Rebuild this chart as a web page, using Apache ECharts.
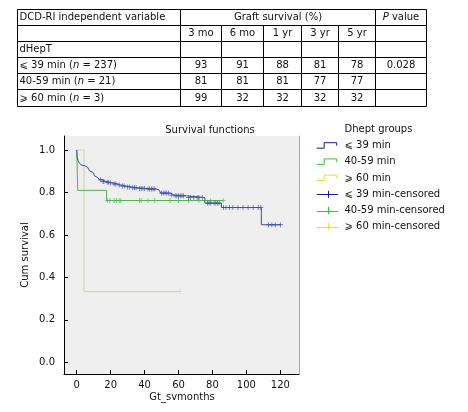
<!DOCTYPE html>
<html><head><meta charset="utf-8">
<script src="https://cdn.jsdelivr.net/npm/echarts@6/dist/echarts.min.js"></script>
<style>html,body{margin:0;padding:0;background:#fff}#c{width:468px;height:412px}</style>
</head><body><div id="c"></div>
<script>
const FONT = "'DejaVu Sans', sans-serif";
const FS = 10;

// ---- Table data ----
const tableHeader = 'DCD-RI independent variable';
const tableSpanHeader = 'Graft survival (%)';
const tablePHeader = 'P';
const timepoints = ['3 mo', '6 mo', '1 yr', '3 yr', '5 yr'];
const groupHeader = 'dHepT';
const groupLabels = ['⩽ 39 min', '40-59 min', '⩾ 60 min'];
const groupN = [237, 21, 3];
const survLe39 = [93, 91, 88, 81, 78];
const surv40to59 = [81, 81, 81, 77, 77];
const survGe60 = [99, 32, 32, 32, 32];
const pValues = ['0.028', '', ''];

// ---- Kaplan-Meier curves (months, cumulative survival) ----
const curveLe39 = [[0,1.0],[0.3,0.965],[0.8,0.95],[1.5,0.94],[2.5,0.93],[3.5,0.925],[5,0.918],[6.5,0.91],[7.5,0.902],[8.5,0.895],[9.5,0.887],[10.5,0.878],[11.5,0.87],[12.5,0.865],[13.5,0.86],[15,0.852],[17,0.848],[19.5,0.845],[21.5,0.84],[24,0.835],[26,0.83],[29,0.826],[32,0.822],[36,0.819],[41,0.816],[47,0.812],[48.5,0.805],[49.5,0.797],[55.5,0.788],[57,0.784],[64.5,0.776],[75.5,0.75],[85.3,0.729],[108.8,0.648],[120.5,0.648]];
const censorLe39 = [[14,0.86],[15.5,0.852],[16,0.852],[18,0.848],[18.8,0.848],[20,0.845],[22,0.84],[23,0.84],[25,0.835],[27,0.83],[28,0.83],[30,0.826],[31,0.826],[33,0.822],[34,0.822],[35,0.822],[37,0.819],[38,0.819],[39,0.819],[40,0.819],[42,0.816],[43,0.816],[44,0.816],[45,0.816],[46,0.816],[50,0.797],[51,0.797],[52,0.797],[53,0.797],[54,0.797],[56,0.788],[58,0.784],[59,0.784],[60,0.784],[61,0.784],[62,0.784],[63,0.784],[66,0.776],[67,0.776],[69,0.776],[71,0.776],[72,0.776],[74,0.776],[77,0.75],[78,0.75],[79,0.75],[81,0.75],[82,0.75],[83,0.75],[84,0.75],[86.5,0.729],[88,0.729],[90,0.729],[92,0.729],[95,0.729],[98,0.729],[101,0.729],[104,0.729],[107,0.729],[108.5,0.729],[113,0.648],[115,0.648],[117,0.648],[120,0.648]];
const curve40to59 = [[0,1.0],[0.6,0.81],[17.6,0.762],[86.3,0.762]];
const censor40to59 = [[18,0.762],[19.5,0.762],[22,0.762],[23.5,0.762],[25,0.762],[26,0.762],[37,0.762],[38,0.762],[42,0.762],[46,0.762],[55,0.762],[60,0.762],[66,0.762],[72,0.762],[79,0.762],[86.3,0.762]];
const curveGe60 = [[0,1.0],[4.3,0.333],[60.8,0.333]];
const censorGe60 = [[60.8,0.333]];

const xTicks = [0, 20, 40, 60, 80, 100, 120];
const yTicks = [0, 0.2, 0.4, 0.6, 0.8, 1.0];
const chartTitle = 'Survival functions';
const xName = 'Gt_svmonths';
const yName = 'Cum survival';
const legendTitle = 'Dhept groups';
const legendLabels = ['⩽ 39 min', '40-59 min', '⩾ 60 min', '⩽ 39 min-censored', '40-59 min-censored', '⩾ 60 min-censored'];

const plotColors = ['#3d4fa0', '#55b055', '#d8d5bd'];
const legendColors = ['#1a1a96', '#2ec82e', '#e3e32c'];
const plusPath = 'path://M4.2,0H5.8V4.2H10V5.8H5.8V10H4.2V5.8H0V4.2H4.2Z';

// ---- graphics: table ----
const colX = [17.5, 180.5, 221.5, 263.5, 301.5, 338.5, 375.5, 426.5];
const rowY = [9.5, 25.5, 41.5, 57.5, 73.5, 89.5, 106.5];
const G = [];
const lineStyle = {stroke: '#000', lineWidth: 1};
function hline(x1, x2, y, st) { G.push({type: 'line', shape: {x1, y1: y, x2, y2: y}, style: st || lineStyle, silent: true}); }
function vline(x, y1, y2, st) { G.push({type: 'line', shape: {x1: x, y1, x2: x, y2}, style: st || lineStyle, silent: true}); }
function txt(x, y, text, align, extra) {
  G.push({type: 'text', x, y, silent: true, style: Object.assign({text, fill: '#111', fontFamily: FONT, fontSize: FS, align: align || 'left', verticalAlign: 'middle',
    rich: {i: {fontStyle: 'italic', fontFamily: FONT, fontSize: FS, fill: '#111'}}}, extra || {})});
}
rowY.forEach(y => hline(colX[0], colX[7], y));
[0, 1, 6, 7].forEach(i => vline(colX[i], rowY[0], rowY[1]));
colX.forEach(x => vline(x, rowY[1], rowY[6]));
const mid = r => (rowY[r] + rowY[r + 1]) / 2;
const cmid = c => (colX[c] + colX[c + 1]) / 2;
txt(19.5, mid(0), tableHeader);
txt((colX[1] + colX[6]) / 2, mid(0), tableSpanHeader, 'center');
txt(cmid(6), mid(0), '{i|' + tablePHeader + '} value', 'center');
timepoints.forEach((t, i) => txt(cmid(i + 1), mid(1), t, 'center'));
txt(19.5, mid(2), groupHeader);
const tableRows = [survLe39, surv40to59, survGe60];
tableRows.forEach((vals, r) => {
  txt(19.5, mid(r + 3), groupLabels[r] + ' ({i|n} = ' + groupN[r] + ')');
  vals.forEach((v, i) => txt(cmid(i + 1), mid(r + 3), String(v), 'center'));
  txt(cmid(6), mid(r + 3), pValues[r], 'center');
});

// ---- chart texts ----
txt(210, 130, chartTitle, 'center');
txt(182, 397, xName, 'center');
G.push({type: 'text', x: 25, y: 255, rotation: Math.PI / 2, silent: true,
  style: {text: yName, fill: '#111', fontFamily: FONT, fontSize: FS, align: 'center', verticalAlign: 'middle'}});

// ---- legend ----
txt(344.5, 129.5, legendTitle);
const lx = 316.7;
legendLabels.forEach((lab, i) => {
  const cy = 145.7 + i * 16.2;
  const col = legendColors[i % 3];
  if (i < 3) {
    G.push({type: 'polyline', silent: true, shape: {points: [[lx, cy + 2.5], [lx + 7.5, cy + 2.5], [lx + 7.5, cy - 3], [lx + 20, cy - 3], [lx + 20, cy]]},
      style: {stroke: col, lineWidth: 1, fill: null}});
  } else {
    hline(lx, lx + 21.5, Math.round(cy) + 0.5, {stroke: col, lineWidth: 1});
    vline(Math.round(lx + 11) + 0.5, cy - 3.5, cy + 3.5, {stroke: col, lineWidth: 1});
  }
  txt(344.5, cy, lab);
});

const axisLabelStyle = {color: '#111', fontFamily: FONT, fontSize: FS};
const option = {
  animation: false,
  backgroundColor: '#fff',
  grid: {left: 64, right: 169, top: 136, bottom: 38, show: true, backgroundColor: '#efefef', borderWidth: 0},
  xAxis: {type: 'value', min: -7.5, max: 131,
    axisLine: {onZero: false, lineStyle: {color: '#000', width: 1}},
    axisTick: {inside: true, length: 4, customValues: xTicks, lineStyle: {color: '#000'}},
    axisLabel: Object.assign({customValues: xTicks, margin: 6}, axisLabelStyle),
    splitLine: {show: false}},
  yAxis: [{type: 'value', min: -0.055, max: 1.066,
    axisLine: {show: true, onZero: false, lineStyle: {color: '#000', width: 1}},
    axisTick: {show: true, inside: true, length: 4, customValues: yTicks, lineStyle: {color: '#000'}},
    axisLabel: Object.assign({customValues: yTicks, margin: 9, formatter: v => v.toFixed(1)}, axisLabelStyle),
    splitLine: {show: false}},
    {type: 'value', min: -0.055, max: 1.066, position: 'right',
    axisLine: {show: true, onZero: false, lineStyle: {color: '#a8a8a8', width: 1}},
    axisTick: {show: false}, axisLabel: {show: false}, splitLine: {show: false}}],
  series: [
    {type: 'line', step: 'end', data: curveGe60, showSymbol: false, lineStyle: {color: plotColors[2], width: 1.2}, z: 2},
    {type: 'line', step: 'end', data: curve40to59, showSymbol: false, lineStyle: {color: plotColors[1], width: 1}, z: 3},
    {type: 'line', step: 'end', data: curveLe39, showSymbol: false, lineStyle: {color: plotColors[0], width: 1}, z: 4},
    {type: 'scatter', data: censorGe60, symbol: plusPath, symbolSize: 5, itemStyle: {color: plotColors[2]}, z: 2},
    {type: 'scatter', data: censor40to59, symbol: plusPath, symbolSize: 5, itemStyle: {color: plotColors[1]}, z: 3},
    {type: 'scatter', data: censorLe39, symbol: plusPath, symbolSize: 5, itemStyle: {color: plotColors[0]}, z: 4}
  ],
  graphic: G
};
const chart = echarts.init(document.getElementById('c'), null, {renderer: 'canvas'});
chart.setOption(option);
</script></body></html>
